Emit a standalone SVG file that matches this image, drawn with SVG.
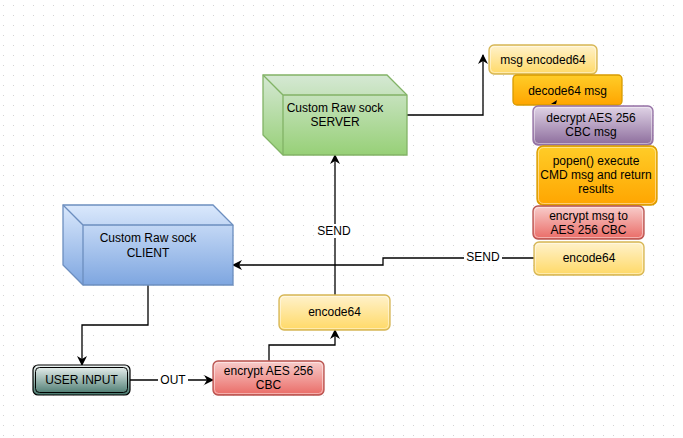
<svg xmlns="http://www.w3.org/2000/svg" width="683" height="438" viewBox="0 0 683 438">
<defs>
<pattern id="grid" x="3" y="5" width="10" height="10" patternUnits="userSpaceOnUse">
<rect x="0" y="0" width="1" height="1" fill="#d3d3d3"/>
</pattern>
<linearGradient id="gYellow" x1="0" y1="0" x2="0" y2="1"><stop offset="0" stop-color="#fff2cc"/><stop offset="1" stop-color="#ffd966"/></linearGradient>
<linearGradient id="gOrange" x1="0" y1="0" x2="0" y2="1"><stop offset="0" stop-color="#ffcd28"/><stop offset="1" stop-color="#ffa500"/></linearGradient>
<linearGradient id="gRed" x1="0" y1="0" x2="0" y2="1"><stop offset="0" stop-color="#f8cecc"/><stop offset="1" stop-color="#ea6b66"/></linearGradient>
<linearGradient id="gPurple" x1="0" y1="0" x2="0" y2="1"><stop offset="0" stop-color="#e1d5e7"/><stop offset="1" stop-color="#8c6c9c"/></linearGradient>
<linearGradient id="gBlue" x1="0" y1="0" x2="0" y2="1"><stop offset="0" stop-color="#dae8fc"/><stop offset="1" stop-color="#7ea6e0"/></linearGradient>
<linearGradient id="gGreen" x1="0" y1="0" x2="0" y2="1"><stop offset="0" stop-color="#d5e8d4"/><stop offset="1" stop-color="#97d077"/></linearGradient>
<linearGradient id="gTeal" x1="0" y1="0" x2="0" y2="1"><stop offset="0" stop-color="#f2f7f6"/><stop offset="1" stop-color="#45766b"/></linearGradient>
<marker id="arr" viewBox="0 0 10 10" refX="9" refY="5" markerWidth="10" markerHeight="10" markerUnits="userSpaceOnUse" orient="auto">
<path d="M0,0 L10,5 L0,10 L3,5 Z" fill="#000"/>
</marker>
</defs>
<style>
text{font-family:"Liberation Sans",Arial,Helvetica,sans-serif;font-size:12px;fill:#000;text-anchor:middle}
.box{stroke-width:1.3}
.y{fill:url(#gYellow);stroke:#d6b656}
.o{fill:url(#gOrange);stroke:#d79b00}
.r{fill:url(#gRed);stroke:#b85450}
.p{fill:url(#gPurple);stroke:#9673a6}
.gl{fill:none;stroke:#ffffff;stroke-opacity:0.45;stroke-width:1}
.edge{fill:none;stroke:#000;stroke-width:1.3}
.lbl{fill:#fff}
</style>
<rect width="683" height="438" fill="#fff"/>
<rect width="683" height="438" fill="url(#grid)"/>

<g id="connectors">
<path class="edge" d="M148,285 V325 H82 V365" marker-end="url(#arr)"/>
<path class="edge" d="M130,380 H213" marker-end="url(#arr)"/>
<path class="edge" d="M269,361 V345 H335 V330" marker-end="url(#arr)"/>
<path class="edge" d="M335,295 V155" marker-end="url(#arr)"/>
<path class="edge" d="M534,258 H383 V265 H233" marker-end="url(#arr)"/>
<path class="edge" d="M407,115 H483 V55" marker-end="url(#arr)"/>
<rect class="lbl" x="158" y="372" width="30" height="14"/>
<text x="173" y="384">OUT</text>
<rect class="lbl" x="316" y="224" width="38" height="14"/>
<text x="334" y="235">SEND</text>
<rect class="lbl" x="464" y="250" width="38" height="14"/>
<text x="483" y="261">SEND</text>
</g>

<g id="server">
<path d="M263,75 H387 L407,95 V155 H283 L263,135 Z" fill="url(#gGreen)" stroke="#82b366" stroke-width="1.3"/>
<path d="M263,75 L283,95 H407 M283,95 V155" fill="none" stroke="#82b366" stroke-width="1.3"/>
<text x="335" y="112">Custom Raw sock</text>
<text x="335" y="126">SERVER</text>
</g>

<g id="client">
<path d="M63,205 H213 L233,225 V285 H83 L63,265 Z" fill="url(#gBlue)" stroke="#6c8ebf" stroke-width="1.3"/>
<path d="M63,205 L83,225 H233 M83,225 V285" fill="none" stroke="#6c8ebf" stroke-width="1.3"/>
<text x="148" y="242">Custom Raw sock</text>
<text x="148" y="257">CLIENT</text>
</g>

<g id="user-input">
<rect x="33" y="365" width="97" height="30" rx="5" fill="url(#gTeal)" stroke="#000" stroke-width="1.2"/>
<rect x="35.5" y="367.5" width="92" height="25" rx="4" fill="none" stroke="#000" stroke-width="1"/>
<text x="81.5" y="384">USER INPUT</text>
</g>

<g id="encrypt-aes">
<rect class="box r" x="213" y="361" width="111" height="34" rx="5"/>
<rect class="gl" x="214.5" y="362.5" width="108" height="31" rx="4"/>
<text x="268.5" y="375">encrypt AES 256</text>
<text x="268.5" y="389">CBC</text>
</g>

<g id="encode64-left">
<rect class="box y" x="279" y="295" width="111" height="35" rx="5"/>
<rect class="gl" x="280.5" y="296.5" width="108" height="32" rx="4"/>
<text x="334.5" y="316">encode64</text>
</g>

<g id="msg-encoded64">
<rect class="box y" x="489" y="45" width="108" height="29" rx="5"/>
<rect class="gl" x="490.5" y="46.5" width="105" height="26" rx="4"/>
<text x="543" y="64">msg encoded64</text>
</g>

<g id="decode64-msg">
<rect class="box o" x="513" y="75" width="109" height="30" rx="4"/>
<text x="567.5" y="95">decode64 msg</text>
<path d="M551,104 L557,100 L556,104 Z" fill="#000"/>
</g>

<g id="decrypt-aes">
<rect class="box p" x="533" y="106" width="120" height="39" rx="5"/>
<rect class="gl" x="534.5" y="107.5" width="117" height="36" rx="4"/>
<text x="591" y="122">decrypt AES 256</text>
<text x="591" y="136">CBC msg</text>
</g>

<g id="popen">
<rect class="box o" x="537" y="146" width="120" height="59" rx="6"/>
<rect class="gl" x="538.5" y="147.5" width="117" height="56" rx="5"/>
<text x="596" y="165">popen() execute</text>
<text x="596" y="179">CMD msg and return</text>
<text x="596" y="193">results</text>
</g>

<g id="encrypt-msg">
<rect class="box r" x="533" y="206" width="111" height="33" rx="5"/>
<rect class="gl" x="534.5" y="207.5" width="108" height="30" rx="4"/>
<text x="588.5" y="220">encrypt msg to</text>
<text x="588.5" y="234">AES 256 CBC</text>
</g>

<g id="encode64-right">
<rect class="box y" x="534" y="242" width="110" height="33" rx="5"/>
<rect class="gl" x="535.5" y="243.5" width="107" height="30" rx="4"/>
<text x="589" y="262">encode64</text>
</g>
</svg>
